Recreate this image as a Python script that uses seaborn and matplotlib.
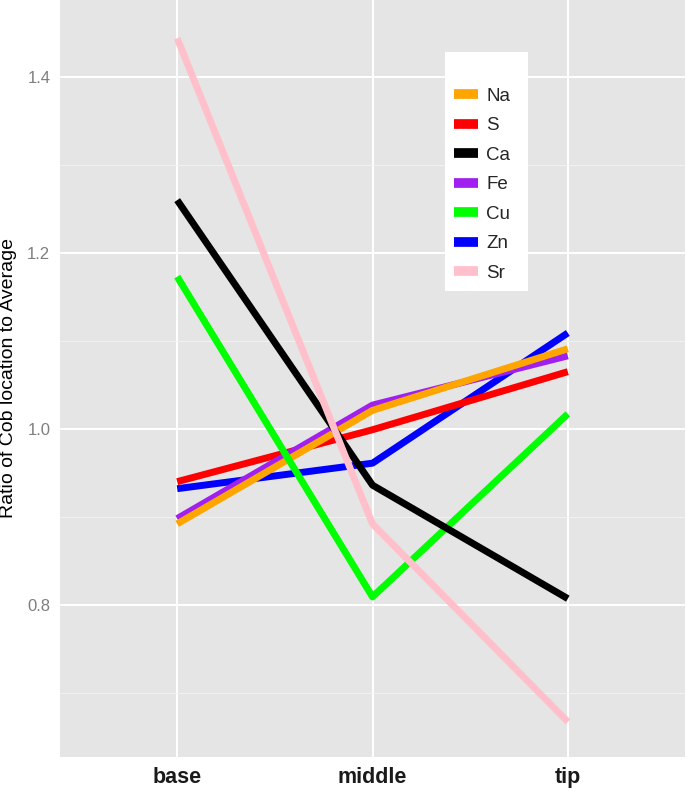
import matplotlib
matplotlib.use("Agg")
import matplotlib.pyplot as plt
import seaborn as sns
import pandas as pd
from matplotlib.lines import Line2D

locations = ["base", "middle", "tip"]
elements = ["Na", "S", "Ca", "Fe", "Cu", "Zn", "Sr"]
Na = [0.892, 1.021, 1.091]
S = [0.940, 0.999, 1.065]
Ca = [1.260, 0.936, 0.807]
Fe = [0.898, 1.027, 1.083]
Cu = [1.173, 0.809, 1.017]
Zn = [0.932, 0.961, 1.109]
Sr = [1.444, 0.892, 0.667]
colors = {"Na": "#FFA500", "S": "#FF0000", "Ca": "#000000", "Fe": "#A020F0",
          "Cu": "#00FF00", "Zn": "#0000FF", "Sr": "#FFC0CB"}
values = {"Na": Na, "S": S, "Ca": Ca, "Fe": Fe, "Cu": Cu, "Zn": Zn, "Sr": Sr}

rows = []
for el in elements:
    for i, loc in enumerate(locations):
        rows.append({"element": el, "pos": i, "location": loc, "ratio": values[el][i]})
df = pd.DataFrame(rows)

sns.set_style("whitegrid")
plt.rcParams["font.family"] = ["Liberation Sans", "DejaVu Sans"]

fig = plt.figure(figsize=(6.87, 7.91), dpi=100)
ax = fig.add_axes([60 / 687, 34 / 791, 625 / 687, 757 / 791])
ax.set_facecolor("#E5E5E5")

draw_order = ["Zn", "S", "Fe", "Na", "Cu", "Ca", "Sr"]
for el in draw_order:
    sub = df[df["element"] == el]
    sns.lineplot(data=sub, x="pos", y="ratio", color=colors[el], lw=5.0,
                 ax=ax, legend=False, solid_capstyle="butt", zorder=3)

ax.set_xlim(-0.6, 2.6)
ax.set_ylim(0.627, 1.4875)
ax.set_xticks(range(len(locations)))
ax.set_xticklabels(locations, fontsize=15.5, fontweight="bold", color="#1A1A1A")
ax.set_yticks([0.8, 1.0, 1.2, 1.4])
ax.set_yticklabels(["0.8", "1.0", "1.2", "1.4"], fontsize=12, color="#7F7F7F")
ax.set_yticks([0.7, 0.9, 1.1, 1.3], minor=True)
ax.grid(True, which="major", color="white", lw=1.4, zorder=0)
ax.grid(True, which="minor", axis="y", color="#F2F2F2", lw=0.7, zorder=0)
ax.set_axisbelow(True)
for s in ax.spines.values():
    s.set_visible(False)
ax.tick_params(axis="both", which="major", length=4, width=0.8, color="#7F7F7F", pad=3)
ax.tick_params(axis="y", which="minor", length=0)
ax.tick_params(axis="x", pad=3)
ax.set_xlabel("")
ax.set_ylabel("Ratio of Cob location to Average", fontsize=14, color="black", labelpad=7)

handles = [Line2D([0], [0], color=colors[el], lw=7, solid_capstyle="butt") for el in elements]
leg = ax.legend(handles, elements, loc="upper left", bbox_to_anchor=(385 / 625, 1 - 52 / 757),
                frameon=True, fancybox=False, edgecolor="white", facecolor="white",
                framealpha=1, fontsize=13.5, handlelength=1.25, handletextpad=0.45,
                labelspacing=0.66, borderpad=0.5, borderaxespad=0,
                title=" " * 15, title_fontsize=11)
leg._legend_box.align = "left"
leg.get_frame().set_linewidth(0)

fig.savefig("out.png", dpi=100)
